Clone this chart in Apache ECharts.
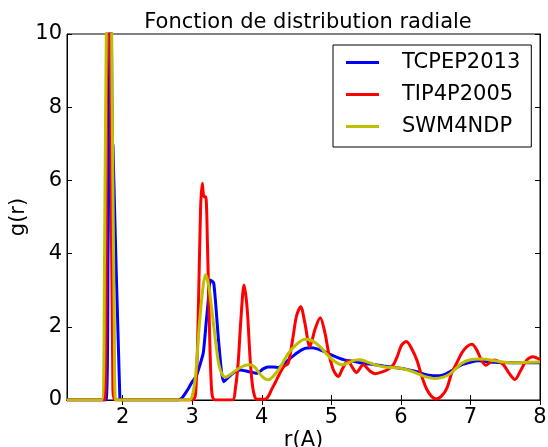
<!DOCTYPE html>
<html>
<head>
<meta charset="utf-8">
<script src="https://cdn.jsdelivr.net/npm/echarts@6/dist/echarts.min.js"></script>
<style>html,body{margin:0;padding:0;background:#fff}#c{width:548px;height:447px}</style>
</head>
<body>
<div id="c"></div>
<script>
const seriesNames = ['TCPEP2013', 'TIP4P2005', 'SWM4NDP'];
const xTicks = [2, 3, 4, 5, 6, 7, 8];
const yTicks = [0, 2, 4, 6, 8, 10];

const tcpepX = [1.2, 1.76, 1.79, 1.83, 1.85, 1.86, 1.96, 2.0, 2.8, 2.85, 2.9, 2.95, 3.0, 3.06, 3.11, 3.16, 3.2, 3.23, 3.26, 3.31, 3.38, 3.45, 3.52, 3.6, 3.69, 3.8, 3.93, 4.02, 4.09, 4.17, 4.24, 4.31, 4.38, 4.5, 4.62, 4.72, 4.81, 4.9, 5.0, 5.1, 5.2, 5.34, 5.41, 5.6, 5.75, 5.99, 6.1, 6.23, 6.35, 6.49, 6.6, 6.71, 6.87, 7.0, 7.11, 7.35, 7.6, 8.0];
const tcpepY = [0, 0, 4, 12, 7.0, 6.97, 0.05, 0, 0, 0.05, 0.18, 0.33, 0.5, 0.66, 0.95, 1.3, 2.1, 2.7, 3.28, 3.19, 1.6, 0.5, 0.62, 0.75, 0.82, 0.78, 0.73, 0.85, 0.9, 0.9, 0.89, 0.97, 1.09, 1.28, 1.41, 1.43, 1.39, 1.32, 1.23, 1.15, 1.09, 1.05, 1.02, 0.97, 0.93, 0.87, 0.83, 0.77, 0.7, 0.66, 0.68, 0.78, 0.96, 1.03, 1.07, 1.03, 1.02, 1.02];

const tip4pX = [1.2, 1.74, 1.77, 1.80, 1.83, 1.86, 1.9, 3.0, 3.05, 3.09, 3.12, 3.145, 3.17, 3.194, 3.22, 3.25, 3.27, 3.29, 3.33, 3.58, 3.62, 3.66, 3.7, 3.745, 3.79, 3.83, 3.86, 3.89, 3.93, 4.05, 4.1, 4.14, 4.2, 4.26, 4.32, 4.38, 4.45, 4.5, 4.56, 4.62, 4.69, 4.77, 4.84, 4.91, 4.96, 5.03, 5.1, 5.16, 5.24, 5.3, 5.36, 5.46, 5.55, 5.63, 5.72, 5.8, 5.89, 5.95, 6.01, 6.08, 6.15, 6.23, 6.3, 6.37, 6.44, 6.51, 6.58, 6.66, 6.73, 6.8, 6.88, 6.95, 7.02, 7.09, 7.16, 7.22, 7.28, 7.34, 7.41, 7.48, 7.56, 7.64, 7.72, 7.81, 7.9, 8.0];
const tip4pY = [0, 0, 9, 15, 8, 0.3, 0, 0, 0.2, 2.6, 5.2, 5.92, 5.55, 5.55, 4.2, 1.8, 0.6, 0.1, 0, 0, 0.3, 1.0, 2.2, 3.14, 2.5, 1.2, 0.5, 0.15, 0.02, 0.02, 0.12, 0.28, 0.5, 0.73, 0.92, 1.0, 1.73, 2.3, 2.55, 2.1, 1.46, 1.96, 2.25, 1.82, 1.3, 0.82, 0.64, 0.85, 1.08, 0.9, 0.75, 0.96, 0.8, 0.72, 0.76, 0.82, 0.96, 1.2, 1.5, 1.6, 1.42, 1.09, 0.65, 0.3, 0.1, 0.03, 0.1, 0.32, 0.73, 1.0, 1.3, 1.46, 1.52, 1.37, 1.08, 0.95, 1.02, 1.09, 1.05, 0.95, 0.72, 0.56, 0.8, 1.09, 1.18, 1.1];

const swm4X = [1.2, 1.70, 1.74, 1.77, 1.82, 1.85, 1.88, 1.9, 2.95, 3.0, 3.05, 3.1, 3.15, 3.19, 3.23, 3.28, 3.33, 3.38, 3.43, 3.48, 3.55, 3.65, 3.75, 3.83, 3.9, 3.97, 4.03, 4.09, 4.15, 4.25, 4.38, 4.5, 4.62, 4.7, 4.78, 4.86, 4.95, 5.05, 5.15, 5.25, 5.34, 5.41, 5.5, 5.6, 5.75, 5.99, 6.1, 6.23, 6.35, 6.49, 6.6, 6.71, 6.87, 7.0, 7.16, 7.35, 7.59, 8.0];
const swm4Y = [0, 0, 4, 11, 14, 8, 2, 0, 0, 0.1, 0.7, 2.0, 3.0, 3.42, 3.2, 2.5, 1.7, 1.0, 0.7, 0.62, 0.7, 0.84, 0.94, 0.96, 0.9, 0.72, 0.6, 0.55, 0.62, 0.85, 1.27, 1.52, 1.66, 1.64, 1.55, 1.41, 1.22, 1.05, 0.96, 1.02, 1.09, 1.1, 1.05, 0.98, 0.91, 0.87, 0.82, 0.73, 0.64, 0.59, 0.62, 0.72, 1.0, 1.1, 1.12, 1.07, 1.02, 1.04];

const colors = ['#0000ff', '#ff0000', '#bfbf00'];
const FONT = 'DejaVu Sans';
const FS = 21;

function pairs(xs, ys) { return xs.map((x, i) => [x, ys[i]]); }

const chart = echarts.init(document.getElementById('c'), null, {renderer: 'canvas'});
const tickStyle = {show: true, inside: true, length: 5, lineStyle: {color: '#000', width: 1}};
chart.setOption({
  animation: false,
  backgroundColor: '#fff',
  title: {
    text: 'Fonction de distribution radiale',
    left: 303, top: 7, textAlign: 'center',
    textStyle: {fontFamily: FONT, fontSize: FS, fontWeight: 'normal', color: '#000'}
  },
  legend: {
    data: seriesNames,
    orient: 'vertical',
    left: 333, top: 45,
    backgroundColor: '#fff',
    borderColor: '#000', borderWidth: 1, borderRadius: 0,
    padding: [7, 11, 10, 13],
    itemWidth: 33, itemHeight: 3, itemGap: 11,
    icon: 'rect',
    textStyle: {fontFamily: FONT, fontSize: FS, color: '#000', padding: [0, 0, 0, 18]}
  },
  grid: {left: 67, right: 8, top: 34, bottom: 47, show: true, borderColor: '#000', borderWidth: 1, backgroundColor: 'transparent', outerBoundsMode: 'none', containLabel: false},
  xAxis: [{
    type: 'value', min: 1.2, max: 8,
    name: 'r(A)', nameLocation: 'middle', nameGap: 30, nameMoveOverlap: false,
    nameTextStyle: {fontFamily: FONT, fontSize: FS, color: '#000'},
    axisLine: {show: true, lineStyle: {color: '#000'}},
    axisTick: Object.assign({customValues: xTicks}, tickStyle),
    axisLabel: {customValues: xTicks, fontFamily: FONT, fontSize: FS, color: '#000', margin: 7},
    splitLine: {show: false}
  }, {
    type: 'value', min: 1.2, max: 8, position: 'top',
    axisLine: {show: true, lineStyle: {color: '#000'}},
    axisTick: Object.assign({customValues: xTicks}, tickStyle),
    axisLabel: {show: false},
    splitLine: {show: false}
  }],
  yAxis: [{
    type: 'value', min: 0, max: 10, interval: 2,
    name: 'g(r)', nameLocation: 'middle', nameGap: 38, nameMoveOverlap: false,
    nameTextStyle: {fontFamily: FONT, fontSize: FS, color: '#000'},
    axisLine: {show: true, lineStyle: {color: '#000'}},
    axisTick: tickStyle,
    axisLabel: {fontFamily: FONT, fontSize: FS, color: '#000', margin: 5},
    splitLine: {show: false}
  }, {
    type: 'value', min: 0, max: 10, interval: 2, position: 'right',
    axisLine: {show: true, lineStyle: {color: '#000'}},
    axisTick: tickStyle,
    axisLabel: {show: false},
    splitLine: {show: false}
  }],
  series: [
    {name: seriesNames[0], type: 'line', data: pairs(tcpepX, tcpepY), color: colors[0], showSymbol: false, smooth: 0.2, clip: true, lineStyle: {width: 3, color: colors[0]}},
    {name: seriesNames[1], type: 'line', data: pairs(tip4pX, tip4pY), color: colors[1], showSymbol: false, smooth: 0.3, clip: true, lineStyle: {width: 3, color: colors[1]}},
    {name: seriesNames[2], type: 'line', data: pairs(swm4X, swm4Y), color: colors[2], showSymbol: false, smooth: 0.3, clip: true, lineStyle: {width: 3, color: colors[2]}}
  ]
});
</script>
</body>
</html>
